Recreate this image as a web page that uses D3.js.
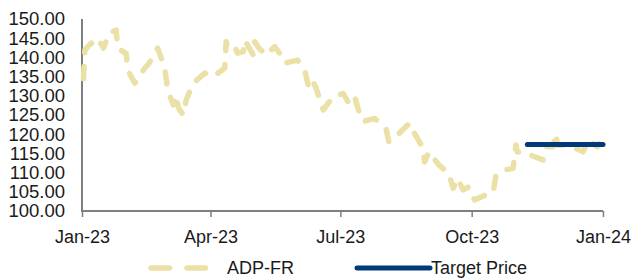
<!DOCTYPE html>
<html>
<head>
<meta charset="utf-8">
<script src="https://cdn.jsdelivr.net/npm/d3@7"></script>
<style>
  body { margin: 0; background: #fff; }
  text { font-family: "Liberation Sans", Arial, sans-serif; fill: #1a1a1a; }
</style>
</head>
<body>
<div id="chart-area"></div>
<script>
// ADP-FR closing prices
var priceDates = [
  "2023-01-02","2023-01-03","2023-01-06","2023-01-12","2023-01-16","2023-01-20",
  "2023-01-25","2023-01-26","2023-02-01","2023-02-02","2023-02-07","2023-02-13",
  "2023-02-17","2023-02-23","2023-02-28","2023-03-02","2023-03-06","2023-03-07",
  "2023-03-10","2023-03-13","2023-03-15","2023-03-20","2023-03-28","2023-04-03",
  "2023-04-11","2023-04-12","2023-04-13","2023-04-18","2023-04-20","2023-04-24",
  "2023-04-25","2023-05-01","2023-05-02","2023-05-05","2023-05-10","2023-05-16",
  "2023-05-22","2023-05-23","2023-06-01","2023-06-06","2023-06-09","2023-06-12",
  "2023-06-14","2023-06-19","2023-06-26","2023-07-03","2023-07-07","2023-07-11",
  "2023-07-14","2023-07-17","2023-07-25","2023-07-31","2023-08-02","2023-08-04",
  "2023-08-10","2023-08-17","2023-08-21","2023-08-22","2023-08-28","2023-08-29",
  "2023-09-01","2023-09-08","2023-09-15","2023-09-18","2023-09-21","2023-09-25",
  "2023-09-29","2023-10-03","2023-10-11","2023-10-16","2023-10-18","2023-10-24",
  "2023-10-30","2023-11-01","2023-11-02","2023-11-08","2023-11-20","2023-11-22",
  "2023-11-27","2023-11-29","2023-11-30","2023-12-08","2023-12-18","2023-12-22",
  "2023-12-28","2023-12-29"
];
var priceValues = [
  134.5,141.9,143.2,145.0,142.4,146.3,
  147.1,142.4,141.0,136.7,133.3,136.7,
  138.5,142.4,137.2,131.5,127.6,130.2,
  126.5,125.0,128.9,133.3,135.9,135.0,
  137.2,144.1,142.4,142.8,141.1,141.5,
  144.5,140.6,144.1,142.4,140.6,142.8,
  139.8,138.5,139.3,136.7,132.0,133.7,
  132.0,126.3,129.8,130.6,128.0,129.8,
  125.9,123.3,124.1,122.0,121.5,118.0,
  119.8,122.4,122.4,120.2,116.3,112.8,
  115.4,112.0,109.8,105.9,108.5,105.5,
  106.3,102.9,104.2,104.6,109.4,110.7,
  111.1,117.2,115.4,115.0,113.3,116.7,
  116.7,120.2,117.2,117.2,115.4,118.5,
  116.7,117.5
];

// target price
var targetDates = ["2023-11-09", "2024-01-01"];
var targetValues = [117.3, 117.3];

var yTicks = [100,105,110,115,120,125,130,135,140,145,150];
var xTicks = ["2023-01-01","2023-04-01","2023-07-01","2023-10-01","2024-01-01"];
var seriesNames = ["ADP-FR", "Target Price"];

var width = 635, height = 279;
var plotLeft = 82, plotRight = 603, plotTop = 19, plotBottom = 211;

var parse = d3.timeParse("%Y-%m-%d");

var svg = d3.select("#chart-area").append("svg")
  .attr("width", width)
  .attr("height", height);

var x = d3.scaleTime()
  .domain([parse("2023-01-01"), parse("2024-01-01")])
  .range([plotLeft, plotRight]);

var y = d3.scaleLinear()
  .domain([100, 150])
  .range([plotBottom, plotTop]);

// Y Axis
var yAxis = svg.append("g")
  .attr("transform", "translate(" + plotLeft + ",0)")
  .call(d3.axisLeft(y).tickValues(yTicks).tickSize(0).tickPadding(17)
    .tickFormat(d3.format(".2f")));
yAxis.select(".domain").attr("stroke", "#7f7f7f").attr("stroke-width", 2)
  .attr("d", "M0," + plotTop + "V" + (plotBottom + 1));
yAxis.selectAll("text").attr("font-size", "18.5px")
  .style("font-family", "'Liberation Sans', Arial, sans-serif").attr("fill", "#1a1a1a");

// X Axis
var xAxis = svg.append("g")
  .attr("transform", "translate(0," + plotBottom + ")")
  .call(d3.axisBottom(x).tickValues(xTicks.map(parse)).tickSize(6).tickPadding(13)
    .tickFormat(d3.timeFormat("%b-%y")));
xAxis.select(".domain").attr("stroke", "#7f7f7f").attr("stroke-width", 2)
  .attr("d", "M" + plotLeft + ",0H" + plotRight);
xAxis.selectAll(".tick line").attr("stroke", "#7f7f7f").attr("stroke-width", 1.5);
xAxis.selectAll("text").attr("font-size", "18px")
  .style("font-family", "'Liberation Sans', Arial, sans-serif").attr("fill", "#1a1a1a");

// price line
var priceData = priceDates.map(function(d, i) {
  return { date: parse(d), value: priceValues[i] };
});
var line = d3.line()
  .x(function(d) { return x(d.date); })
  .y(function(d) { return y(d.value); });

svg.append("path")
  .datum(priceData)
  .attr("fill", "none")
  .attr("stroke", "#ebe1a6")
  .attr("stroke-width", 5.5)
  .attr("stroke-linecap", "round")
  .attr("stroke-linejoin", "round")
  .attr("stroke-dasharray", "12,14")
  .attr("d", line);

// target line
var targetData = targetDates.map(function(d, i) {
  return { date: parse(d), value: targetValues[i] };
});
svg.append("path")
  .datum(targetData)
  .attr("fill", "none")
  .attr("stroke", "#003a78")
  .attr("stroke-width", 5)
  .attr("stroke-linecap", "round")
  .attr("d", line);

// Legend
var legend = svg.append("g");
legend.append("line")
  .attr("x1", 151).attr("x2", 208).attr("y1", 268).attr("y2", 268)
  .attr("stroke", "#ebe1a6").attr("stroke-width", 5.5)
  .attr("stroke-linecap", "round").attr("stroke-dasharray", "18.5,17.5");
legend.append("text")
  .attr("x", 227).attr("y", 274)
  .attr("font-size", "18px")
  .text(seriesNames[0]);
legend.append("line")
  .attr("x1", 357).attr("x2", 430).attr("y1", 268).attr("y2", 268)
  .attr("stroke", "#003a78").attr("stroke-width", 5)
  .attr("stroke-linecap", "round");
legend.append("text")
  .attr("x", 431).attr("y", 274)
  .attr("font-size", "18px")
  .text(seriesNames[1]);
</script>
</body>
</html>
